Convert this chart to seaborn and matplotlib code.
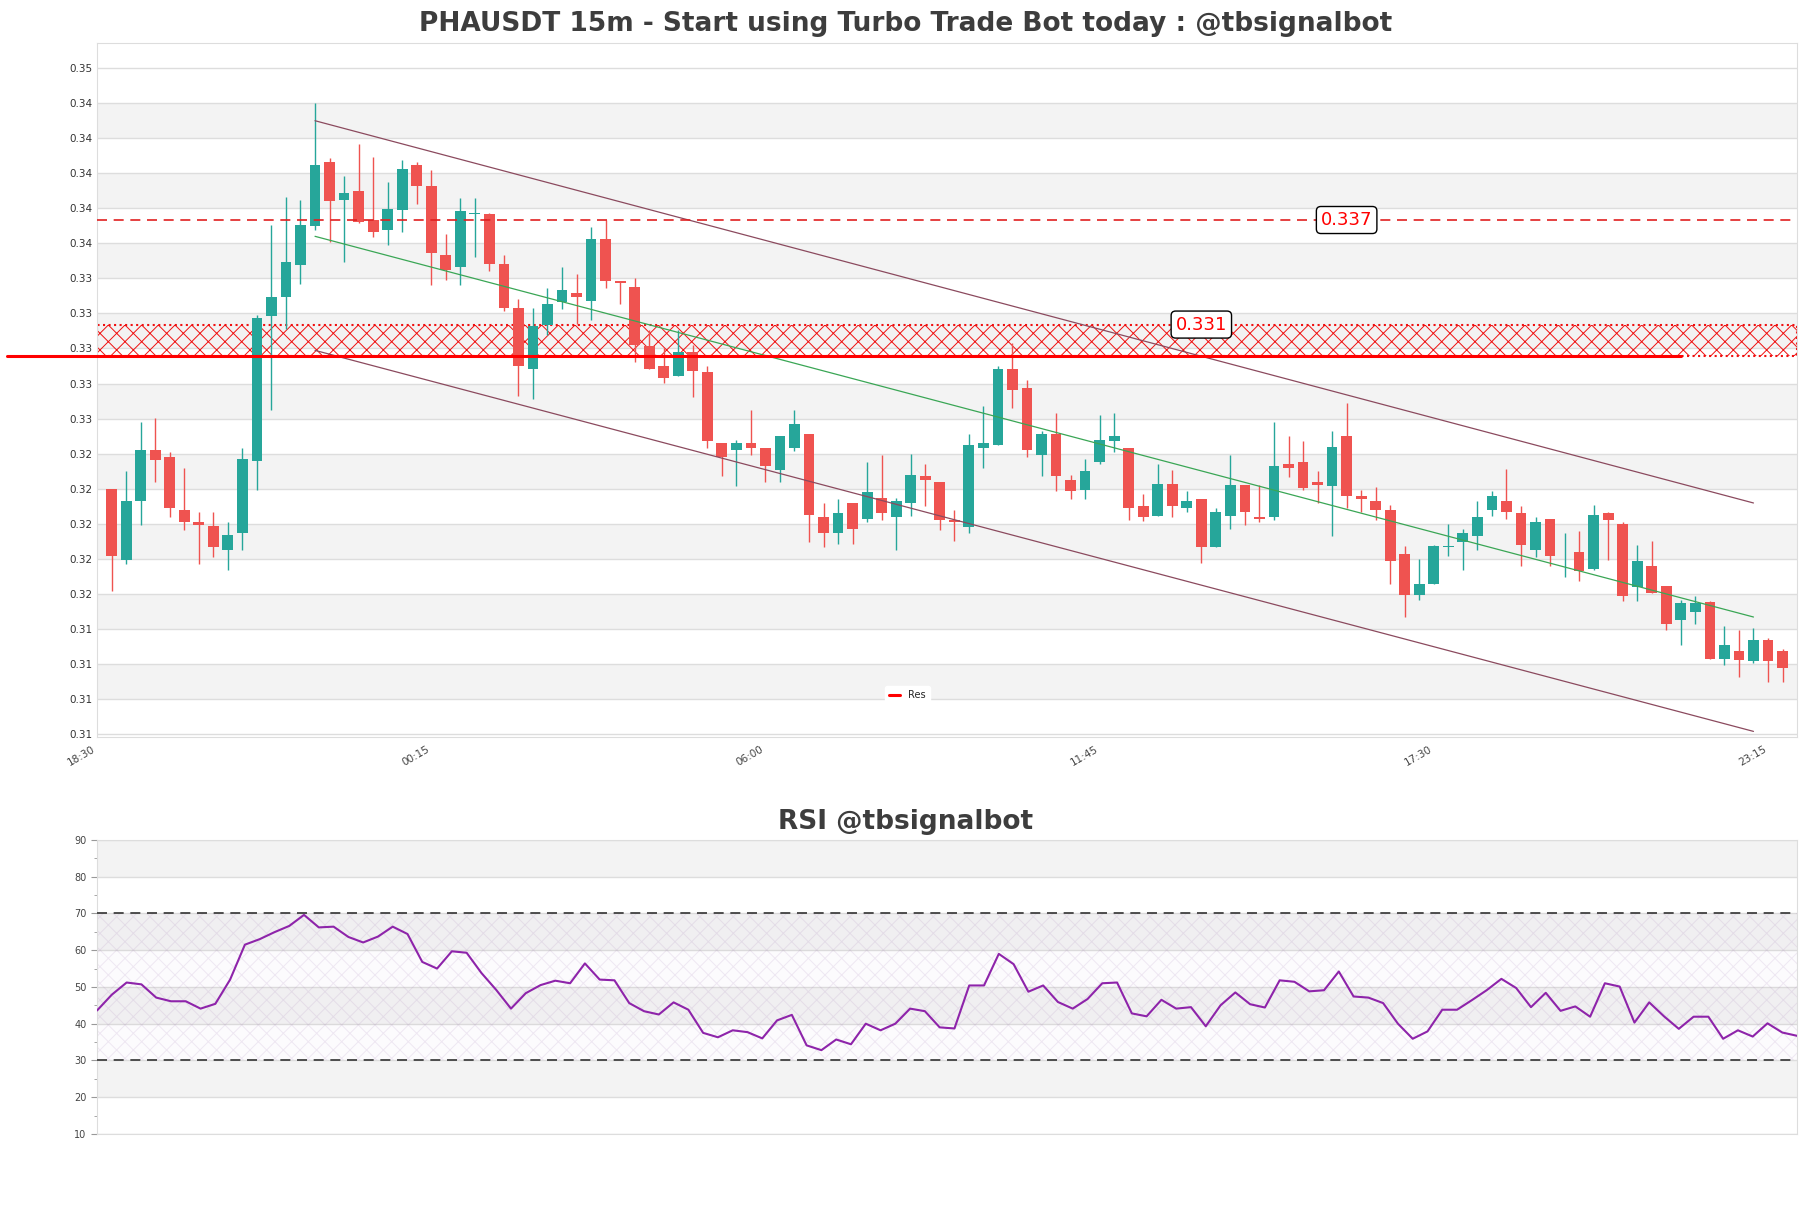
import numpy as np
import pandas as pd
import matplotlib
matplotlib.use("Agg")
import matplotlib.pyplot as plt
import seaborn as sns
from matplotlib.ticker import FormatStrFormatter, MultipleLocator

# PHAUSDT 15m candles
opens = [0.32201, 0.31796, 0.32128, 0.32423, 0.32383, 0.32081, 0.32013, 0.31990, 0.31853, 0.31946,
         0.32356, 0.33183, 0.33291, 0.33474, 0.33700, 0.34063, 0.33844, 0.33899, 0.33734, 0.33673,
         0.33791, 0.34048, 0.33928, 0.33535, 0.33462, 0.33768, 0.33768, 0.33483, 0.33231, 0.32883,
         0.33132, 0.33263, 0.33316, 0.33268, 0.33626, 0.33386, 0.33348, 0.33016, 0.32902, 0.32841,
         0.32982, 0.32864, 0.32461, 0.32419, 0.32461, 0.32433, 0.32309, 0.32430, 0.32513, 0.32039,
         0.31948, 0.32119, 0.32028, 0.32148, 0.32037, 0.32119, 0.32275, 0.32241, 0.32024, 0.31980,
         0.32433, 0.32448, 0.32883, 0.32775, 0.32391, 0.32514, 0.32252, 0.32195, 0.32355, 0.32470,
         0.32433, 0.32104, 0.32047, 0.32229, 0.32088, 0.32144, 0.31866, 0.32047, 0.32224, 0.32041,
         0.32037, 0.32342, 0.32355, 0.32241, 0.32218, 0.32503, 0.32161, 0.32132, 0.32081, 0.31830,
         0.31597, 0.31658, 0.31870, 0.31895, 0.31929, 0.32077, 0.32132, 0.32062, 0.31849, 0.32030,
         0.31849, 0.31840, 0.31745, 0.32062, 0.32001, 0.31638, 0.31762, 0.31648, 0.31454, 0.31496,
         0.31553, 0.31232, 0.31277, 0.31216, 0.31340, 0.31277]
highs = [0.32201, 0.32303, 0.32581, 0.32604, 0.32410, 0.32319, 0.32068, 0.32068, 0.32011, 0.32433,
         0.33188, 0.33706, 0.33865, 0.33846, 0.34401, 0.34086, 0.33985, 0.34167, 0.34089, 0.33947,
         0.34076, 0.34063, 0.34019, 0.33654, 0.33859, 0.33859, 0.33774, 0.33533, 0.33284, 0.33231,
         0.33345, 0.33464, 0.33426, 0.33692, 0.33730, 0.33386, 0.33402, 0.33107, 0.33003, 0.33107,
         0.33022, 0.32898, 0.32461, 0.32480, 0.32651, 0.32433, 0.32503, 0.32651, 0.32513, 0.32119,
         0.32142, 0.32119, 0.32355, 0.32395, 0.32148, 0.32400, 0.32343, 0.32241, 0.32081, 0.32514,
         0.32674, 0.32898, 0.33031, 0.32818, 0.32527, 0.32632, 0.32281, 0.32370, 0.32623, 0.32632,
         0.32433, 0.32171, 0.32343, 0.32305, 0.32189, 0.32144, 0.32091, 0.32395, 0.32224, 0.32224,
         0.32581, 0.32503, 0.32470, 0.32303, 0.32527, 0.32689, 0.32191, 0.32210, 0.32108, 0.31872,
         0.31800, 0.31878, 0.32001, 0.31973, 0.32132, 0.32189, 0.32315, 0.32104, 0.32039, 0.32030,
         0.31948, 0.31961, 0.32108, 0.32068, 0.32009, 0.31882, 0.31900, 0.31648, 0.31568, 0.31591,
         0.31562, 0.31420, 0.31397, 0.31407, 0.31350, 0.31287]
lows = [0.31615, 0.31771, 0.31996, 0.32237, 0.32037, 0.31967, 0.31771, 0.31809, 0.31735, 0.31849,
        0.32195, 0.32651, 0.33113, 0.33369, 0.33673, 0.33607, 0.33491, 0.33715, 0.33633, 0.33592,
        0.33662, 0.33821, 0.33360, 0.33392, 0.33360, 0.33519, 0.33439, 0.33211, 0.32727, 0.32712,
        0.33075, 0.33225, 0.33141, 0.33160, 0.33345, 0.33254, 0.32923, 0.32883, 0.32803, 0.32841,
        0.32723, 0.32433, 0.32275, 0.32218, 0.32395, 0.32237, 0.32237, 0.32417, 0.31895, 0.31866,
        0.31887, 0.31887, 0.32009, 0.32020, 0.31853, 0.32047, 0.32104, 0.31967, 0.31904, 0.31948,
        0.32319, 0.32448, 0.32661, 0.32381, 0.32275, 0.32185, 0.32144, 0.32144, 0.32342, 0.32408,
        0.32024, 0.32018, 0.32047, 0.32037, 0.32066, 0.31777, 0.31866, 0.31971, 0.31996, 0.32009,
        0.32024, 0.32267, 0.32195, 0.32119, 0.31929, 0.32088, 0.32066, 0.32024, 0.31659, 0.31469,
        0.31564, 0.31658, 0.31815, 0.31735, 0.31853, 0.32047, 0.32028, 0.31758, 0.31809, 0.31758,
        0.31695, 0.31676, 0.31735, 0.31796, 0.31562, 0.31562, 0.31606, 0.31393, 0.31308, 0.31431,
        0.31232, 0.31194, 0.31127, 0.31207, 0.31097, 0.31097]
closes = [0.31815, 0.32132, 0.32423, 0.32366, 0.32088, 0.32009, 0.31996, 0.31866, 0.31938, 0.32372,
          0.33174, 0.33295, 0.33495, 0.33706, 0.34048, 0.33842, 0.33888, 0.33721, 0.33662, 0.33797,
          0.34025, 0.33924, 0.33542, 0.33449, 0.33785, 0.33774, 0.33479, 0.33231, 0.32898, 0.33126,
          0.33255, 0.33335, 0.33291, 0.33626, 0.33382, 0.33371, 0.33022, 0.32883, 0.32832, 0.32982,
          0.32869, 0.32470, 0.32381, 0.32461, 0.32433, 0.32328, 0.32503, 0.32571, 0.32049, 0.31948,
          0.32062, 0.31971, 0.32184, 0.32062, 0.32132, 0.32281, 0.32248, 0.32020, 0.32009, 0.32452,
          0.32461, 0.32883, 0.32761, 0.32419, 0.32514, 0.32271, 0.32185, 0.32303, 0.32480, 0.32503,
          0.32088, 0.32037, 0.32229, 0.32104, 0.32132, 0.31866, 0.32068, 0.32224, 0.32066, 0.32028,
          0.32332, 0.32316, 0.32205, 0.32222, 0.32438, 0.32157, 0.32142, 0.32077, 0.31786, 0.31597,
          0.31659, 0.31872, 0.31873, 0.31948, 0.32041, 0.32159, 0.32066, 0.31878, 0.32011, 0.31815,
          0.31851, 0.31733, 0.32052, 0.32020, 0.31587, 0.31790, 0.31606, 0.31431, 0.31549, 0.31549,
          0.31232, 0.31312, 0.31226, 0.31340, 0.31216, 0.31176]

rsi = [43.6, 47.9, 51.2, 50.7, 47.1, 46.1, 46.1, 44.1, 45.4, 52.0,
       61.5, 63.0, 64.9, 66.6, 69.6, 66.2, 66.4, 63.6, 62.1, 63.7,
       66.4, 64.4, 56.8, 55.0, 59.7, 59.3, 53.8, 49.2, 44.1, 48.3,
       50.5, 51.7, 51.0, 56.4, 52.0, 51.8, 45.6, 43.4, 42.5, 45.8,
       43.8, 37.5, 36.3, 38.2, 37.7, 36.0, 40.9, 42.4, 34.1, 32.8,
       35.7, 34.4, 40.0, 38.2, 40.0, 44.1, 43.4, 39.0, 38.7, 50.4,
       50.4, 59.0, 56.2, 48.7, 50.4, 45.9, 44.1, 46.7, 51.0, 51.2,
       42.8, 42.0, 46.5, 44.1, 44.5, 39.3, 45.0, 48.5, 45.3, 44.4,
       51.8, 51.4, 48.8, 49.1, 54.2, 47.4, 47.1, 45.6, 40.0, 35.9,
       37.9, 43.8, 43.8, 46.4, 49.1, 52.2, 49.7, 44.5, 48.4, 43.5,
       44.7, 41.9, 51.0, 50.1, 40.3, 45.8, 42.0, 38.6, 41.9, 41.9,
       35.9, 38.2, 36.5, 40.1, 37.6, 36.7]

tick_labels = ["18:30", "00:15", "06:00", "11:45", "17:30", "23:15"]
price_ticks = [0.346, 0.344, 0.342, 0.340, 0.338, 0.336, 0.334, 0.332, 0.330, 0.328,
               0.326, 0.324, 0.322, 0.320, 0.318, 0.316, 0.314, 0.312, 0.310, 0.308]

# levels and channel
res_level = 0.33732
zone_low = 0.32955
zone_high = 0.33136
channel_x = [14, 113]
channel_upper = [0.34298, 0.32119]
channel_mid = [0.33639, 0.31469]
channel_lower = [0.32989, 0.30817]

sns.set_style("white")
plt.rcParams['font.family'] = ['DejaVu Sans']
plt.rcParams['hatch.linewidth'] = 0.7

fig = plt.figure(figsize=(18.11, 12.08), dpi=100)
ax = fig.add_axes([0.0536, 0.3899, 0.9387, 0.5745])
ax2 = fig.add_axes([0.0536, 0.0613, 0.9387, 0.2434])

df = pd.DataFrame({"open": opens, "high": highs, "low": lows, "close": closes})
df["idx"] = np.arange(len(df))
colors = np.where(df["close"] >= df["open"], "#26a69a", "#ef5350")

# alternating bands
for i in range(1, len(price_ticks) - 1, 2):
    ax.axhspan(price_ticks[i + 1], price_ticks[i], color="#f3f3f3", lw=0, zorder=0)

# candles
ax.vlines(df["idx"], df["low"], df["high"], colors=colors, lw=1, zorder=2)
body = (df["close"] - df["open"]).abs().clip(lower=0.00003)
ax.bar(df["idx"], body, bottom=df[["open", "close"]].min(axis=1), width=0.74,
       color=colors, lw=0, zorder=3)

# channel
sns.lineplot(x=channel_x, y=channel_upper, ax=ax, color="#8b4a5e", lw=0.9, zorder=4)
sns.lineplot(x=channel_x, y=channel_lower, ax=ax, color="#8b4a5e", lw=0.9, zorder=4)
sns.lineplot(x=channel_x, y=channel_mid, ax=ax, color="#3aa655", lw=0.9, zorder=4)

# resistance zone + levels
ax.axhspan(zone_low, zone_high, facecolor="none", edgecolor="#f01010", hatch="xx",
           lw=1.5, ls=":", zorder=1)
ax.axhline(res_level, color="#e02020", ls=(0, (6, 4)), lw=1.2, zorder=4)
ax.plot([-0.053, 0.932], [zone_low, zone_low], transform=ax.get_yaxis_transform(),
        color="red", lw=2.2, clip_on=False, label="Res", zorder=5)
box = dict(boxstyle="round,pad=0.25", fc="white", ec="black", lw=1)
ax.text(85, res_level, "0.337", color="red", fontsize=13, ha="center", va="center", bbox=box, zorder=6)
ax.text(75, zone_high, "0.331", color="red", fontsize=13, ha="center", va="center", bbox=box, zorder=6)

ax.set_xlim(-1, 116)
ax.set_ylim(0.30785, 0.34741)
ax.set_yticks(price_ticks)
ax.yaxis.set_major_formatter(FormatStrFormatter('%.2f'))
ax.set_xticks([-1, 22, 45, 68, 91, 114])
ax.set_xticklabels(tick_labels, rotation=30, ha="right", fontsize=7.5, color="#444444")
ax.tick_params(axis="y", labelsize=7.5, labelcolor="#333333")
ax.tick_params(length=0)
ax.tick_params(axis="x", pad=5)
ax.yaxis.grid(True, color="#dddddd", lw=1)
ax.set_axisbelow(True)
ax.set_xlabel("")
ax.set_ylabel("")
for s in ax.spines.values():
    s.set_color("#dddddd")
leg = ax.legend(loc="center", bbox_to_anchor=(0.4765, 0.0605), fontsize=7, handlelength=1.2,
                frameon=True, framealpha=1, edgecolor="white")

# RSI panel
for lo in (20, 40, 60, 80):
    ax2.axhspan(lo, lo + 10, color="#f3f3f3", lw=0, zorder=0)
ax2.fill_between([0, 115], 30, 70, facecolor=(0.55, 0.35, 0.65, 0.02),
                 edgecolor=(0.55, 0.35, 0.65, 0.12), hatch="xx", lw=0, zorder=1)
ax2.axhline(70, color="#333333", ls=(0, (6, 4)), lw=1.2, zorder=3)
ax2.axhline(30, color="#333333", ls=(0, (6, 4)), lw=1.2, zorder=3)
sns.lineplot(x=np.arange(len(rsi)), y=rsi, ax=ax2, color="#8e24aa", lw=1.5, zorder=4)
ax2.set_xlim(0, 115)
ax2.set_ylim(10, 90)
ax2.set_yticks(range(10, 91, 10))
ax2.yaxis.set_minor_locator(MultipleLocator(5))
ax2.set_xticks([])
ax2.tick_params(axis="y", which="both", left=True, color="#999999", labelsize=7, labelcolor="#444444")
ax2.tick_params(axis="y", which="major", length=4)
ax2.tick_params(axis="y", which="minor", length=2)
ax2.yaxis.grid(True, color="#dddddd", lw=1)
ax2.set_axisbelow(True)
ax2.set_xlabel("")
ax2.set_ylabel("")
for s in ax2.spines.values():
    s.set_color("#dddddd")

fig.text(0.5, 0.980, "PHAUSDT 15m - Start using Turbo Trade Bot today : @tbsignalbot",
         ha="center", va="center", fontsize=19, fontweight="bold", color="#3d3d3d")
fig.text(0.5, 0.3195, "RSI @tbsignalbot", ha="center", va="center", fontsize=19,
         fontweight="bold", color="#3d3d3d")

fig.savefig("out.png", dpi=100)
